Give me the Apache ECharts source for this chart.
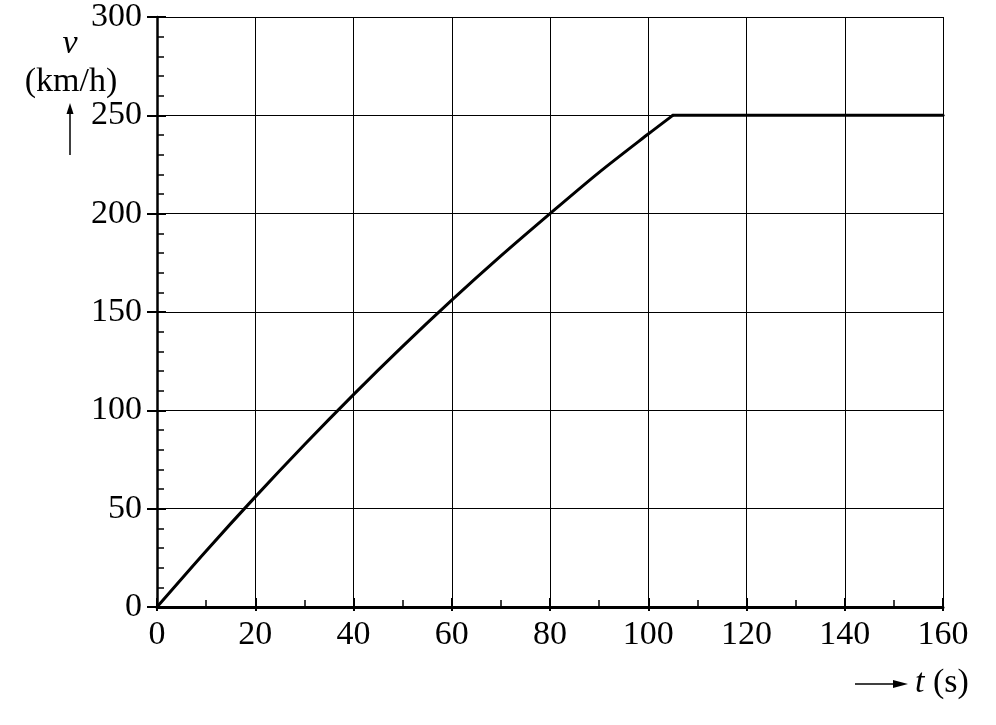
<!DOCTYPE html>
<html>
<head>
<meta charset="utf-8">
<script src="https://cdn.jsdelivr.net/npm/echarts@6/dist/echarts.min.js"></script>
<style>
html,body{margin:0;padding:0;background:#fff;}
#chart{width:996px;height:725px;}
</style>
</head>
<body>
<div id="chart"></div>
<script>
// Data
const tValues = [0, 10, 20, 30, 40, 50, 60, 70, 80, 90, 100, 105, 160];
const vValues = [0, 28.5, 56, 82.5, 108, 132.5, 156, 178.5, 200, 221, 240.5, 250, 250];
const accelEndIndex = 11; // t = 105 s, end of acceleration phase
const xTicks = [0, 20, 40, 60, 80, 100, 120, 140, 160];
const yTicks = [0, 50, 100, 150, 200, 250, 300];
const yAxisName = 'v';
const yAxisUnit = '(km/h)';
const xAxisName = 't';
const xAxisUnit = ' (s)';

const FONT = "'Liberation Serif','Times New Roman',serif";
const FS = 34;
const chart = echarts.init(document.getElementById('chart'), null, {renderer: 'canvas'});

const xMin = xTicks[0], xMax = xTicks[xTicks.length - 1], xInt = xTicks[1] - xTicks[0];
const yMin = yTicks[0], yMax = yTicks[yTicks.length - 1], yInt = yTicks[1] - yTicks[0];

const points = tValues.map((t, i) => [t, vValues[i]]);
const accelData = points.slice(0, accelEndIndex + 1);
const cruiseData = points.slice(accelEndIndex);

const lineStyle = {color: '#000', width: 3, join: 'round', cap: 'round'};

const option = {
  animation: false,
  backgroundColor: '#fff',
  grid: {left: 157, right: 53, top: 17, bottom: 118, containLabel: false},
  xAxis: [
    {
      type: 'value', position: 'bottom', min: xMin, max: xMax, interval: xInt,
      axisLine: {show: true, onZero: false, lineStyle: {color: '#000', width: 3}},
      axisTick: {show: true, inside: true, length: 9, lineStyle: {color: '#000', width: 2}},
      minorTick: {show: true, splitNumber: 2, length: 7, lineStyle: {color: '#000', width: 1.5}},
      axisLabel: {show: true, color: '#000', fontFamily: FONT, fontSize: FS, margin: 11},
      splitLine: {show: true, lineStyle: {color: '#000', width: 1}}
    },
    {
      type: 'value', position: 'bottom', min: xMin, max: xMax, interval: xInt,
      axisLine: {show: false},
      axisTick: {show: true, inside: false, length: 4, lineStyle: {color: '#000', width: 2}},
      axisLabel: {show: false},
      splitLine: {show: false}
    }
  ],
  yAxis: [
    {
      type: 'value', position: 'left', min: yMin, max: yMax, interval: yInt,
      axisLine: {show: true, onZero: false, lineStyle: {color: '#000', width: 2.5}},
      axisTick: {show: true, inside: false, length: 10, lineStyle: {color: '#000', width: 2}},
      axisLabel: {show: true, color: '#000', fontFamily: FONT, fontSize: FS, margin: 15},
      splitLine: {show: true, lineStyle: {color: '#000', width: 1}}
    },
    {
      type: 'value', position: 'left', min: yMin, max: yMax, interval: yInt,
      axisLine: {show: false},
      axisTick: {show: true, inside: true, length: 9, lineStyle: {color: '#000', width: 2}},
      minorTick: {show: true, splitNumber: 5, length: 7, lineStyle: {color: '#000', width: 1.5}},
      axisLabel: {show: false},
      splitLine: {show: false}
    }
  ],
  series: [
    {
      type: 'line', xAxisIndex: 0, yAxisIndex: 0,
      data: accelData, smooth: 0.3,
      showSymbol: false, symbol: 'none', clip: false,
      lineStyle: lineStyle, z: 5
    },
    {
      type: 'line', xAxisIndex: 0, yAxisIndex: 0,
      data: cruiseData,
      showSymbol: false, symbol: 'none', clip: false,
      lineStyle: lineStyle, z: 5
    }
  ],
  graphic: [
    {
      type: 'text', x: 70, y: 61,
      style: {text: yAxisName, font: 'italic ' + FS + 'px ' + FONT, fill: '#000', textAlign: 'center', textVerticalAlign: 'bottom'}
    },
    {
      type: 'text', x: 71, y: 99,
      style: {text: yAxisUnit, font: FS + 'px ' + FONT, fill: '#000', textAlign: 'center', textVerticalAlign: 'bottom'}
    },
    {
      type: 'line', shape: {x1: 70, y1: 155, x2: 70, y2: 110},
      style: {stroke: '#000', lineWidth: 1.5}
    },
    {
      type: 'polygon', shape: {points: [[70, 103], [66.5, 114], [73.5, 114]]},
      style: {fill: '#000'}
    },
    {
      type: 'line', shape: {x1: 855, y1: 684, x2: 895, y2: 684},
      style: {stroke: '#000', lineWidth: 1.5}
    },
    {
      type: 'polygon', shape: {points: [[908, 684], [893, 680], [893, 688]]},
      style: {fill: '#000'}
    },
    {
      type: 'text', x: 915, y: 700,
      style: {
        text: '{i|' + xAxisName + '}' + xAxisUnit,
        font: FS + 'px ' + FONT, fill: '#000', textAlign: 'left', textVerticalAlign: 'bottom',
        rich: {i: {fontStyle: 'italic', fontFamily: FONT, fontSize: FS, fill: '#000'}}
      }
    }
  ]
};
chart.setOption(option);
</script>
</body>
</html>
